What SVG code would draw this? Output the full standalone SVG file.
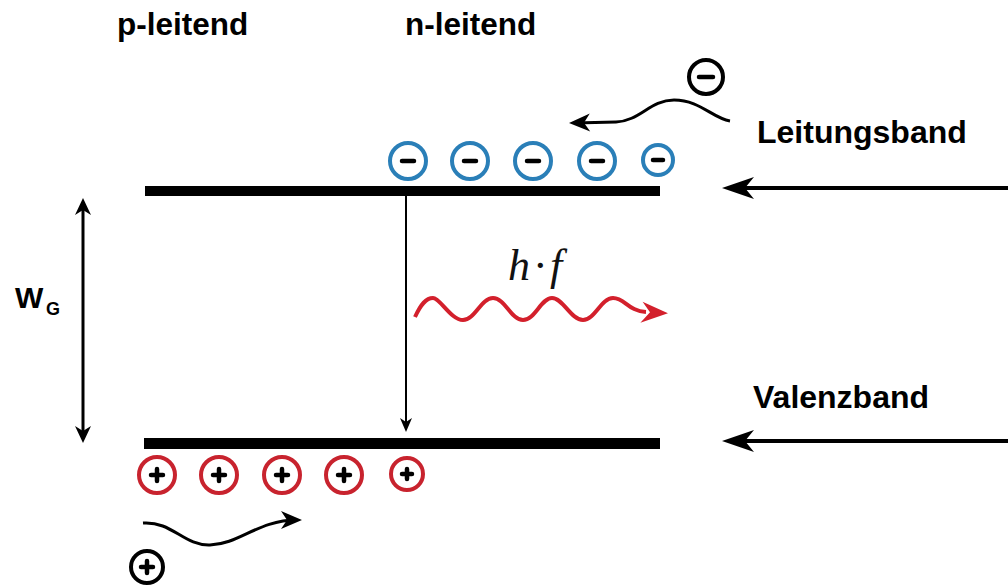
<svg xmlns="http://www.w3.org/2000/svg" width="1008" height="586" viewBox="0 0 1008 586">
<style>
.lbl{font-family:"Liberation Sans",Arial,sans-serif;font-weight:bold;fill:#000}
.band{fill:#000}
.ecirc{fill:#fff;stroke:#2a7fb8;stroke-width:4}
.hcirc{fill:#fff;stroke:#c8232e;stroke-width:4}
.kcirc{fill:#fff;stroke:#000;stroke-width:4}
.sign{stroke:#000;stroke-width:4.5;stroke-linecap:round}
.conn{fill:none;stroke:#000}
</style>
<defs>
<marker id="bigHead" viewBox="-32 -12 38 24" refX="0" refY="0" markerWidth="38" markerHeight="24" markerUnits="userSpaceOnUse" orient="auto">
<path d="M6,0 L-26,-11 L-17,0 L-26,11 Z" fill="#000"/>
</marker>
<marker id="midHead" viewBox="-20 -10 26 20" refX="0" refY="0" markerWidth="26" markerHeight="20" markerUnits="userSpaceOnUse" orient="auto-start-reverse">
<path d="M4,0 L-13,-8 L-8,0 L-13,8 Z" fill="#000"/>
</marker>
<marker id="smallHead" viewBox="-16 -8 20 16" refX="0" refY="0" markerWidth="20" markerHeight="16" markerUnits="userSpaceOnUse" orient="auto">
<path d="M3,0 L-11,-6 L-7,0 L-11,6 Z" fill="#000"/>
</marker>
<marker id="waveHead" viewBox="-22 -10 28 20" refX="0" refY="0" markerWidth="28" markerHeight="20" markerUnits="userSpaceOnUse" orient="auto">
<path d="M5,0 L-16,-9 L-10,0 L-16,9 Z" fill="#000"/>
</marker>
<marker id="redHead" viewBox="-12 -12 36 24" refX="0" refY="0" markerWidth="36" markerHeight="24" markerUnits="userSpaceOnUse" orient="auto">
<path d="M22,0 L-4,-10 L4,0 L-5,11 Z" fill="#d3202c"/>
</marker>
</defs>

<g id="labels">
<text class="lbl" x="117" y="35" font-size="31.5">p-leitend</text>
<text class="lbl" x="405" y="35" font-size="31.5">n-leitend</text>
<text class="lbl" x="757" y="143" font-size="32">Leitungsband</text>
<text class="lbl" x="753" y="408" font-size="32">Valenzband</text>
<text class="lbl" x="15" y="308" font-size="30">W<tspan x="46" y="315" font-size="18">G</tspan></text>
<text x="508" y="280" font-family="'Liberation Serif','Times New Roman',serif" font-style="italic" font-size="44" fill="#111">h<tspan x="533" font-style="normal">·</tspan><tspan x="550">f</tspan></text>
</g>

<g id="conduction-band"><rect class="band" x="145" y="186" width="515" height="10"/></g>
<g id="valence-band"><rect class="band" x="144" y="438" width="516" height="11"/></g>

<g id="connectors">
<line class="conn" x1="1008" y1="188" x2="728" y2="188" stroke-width="4" marker-end="url(#bigHead)"/>
<line class="conn" x1="1008" y1="441" x2="728" y2="441" stroke-width="4" marker-end="url(#bigHead)"/>
<line class="conn" x1="83" y1="202" x2="83" y2="439" stroke-width="3" marker-start="url(#midHead)" marker-end="url(#midHead)"/>
<line class="conn" x1="406" y1="196" x2="406" y2="429" stroke-width="2" marker-end="url(#smallHead)"/>
<path class="conn" d="M730,121 C712,118 700,100 674,100 C650,100 640,121 616,122 L574,123" stroke-width="3" marker-end="url(#waveHead)"/>
<path class="conn" d="M143,523 C172,521 184,546 210,545 C240,544 258,520 297,520" stroke-width="3" marker-end="url(#waveHead)"/>
<path d="M415,317 C421,304 426,298 433,298 S451,320 463,320 S481,298 493,298 S511,320 523,320 S541,298 552,298 S571,320 583,320 S601,298 613,298 S628,311 646,312" fill="none" stroke="#d3202c" stroke-width="4" marker-end="url(#redHead)"/>
</g>

<g id="electron-free" transform="translate(706,77)"><circle class="kcirc" r="17"/><line class="sign" x1="-7" y1="0" x2="7" y2="0"/></g>
<g id="electron-1" transform="translate(408,161)"><circle class="ecirc" r="18"/><line class="sign" x1="-6" y1="0" x2="6" y2="0"/></g>
<g id="electron-2" transform="translate(470,161)"><circle class="ecirc" r="18"/><line class="sign" x1="-6" y1="0" x2="6" y2="0"/></g>
<g id="electron-3" transform="translate(533,161)"><circle class="ecirc" r="18"/><line class="sign" x1="-6" y1="0" x2="6" y2="0"/></g>
<g id="electron-4" transform="translate(597,161)"><circle class="ecirc" r="18"/><line class="sign" x1="-6" y1="0" x2="6" y2="0"/></g>
<g id="electron-5" transform="translate(658,160)"><circle class="ecirc" r="15"/><line class="sign" x1="-5" y1="0" x2="5" y2="0"/></g>

<g id="hole-1" transform="translate(157,475)"><circle class="hcirc" r="18"/><path class="sign" d="M-6,0 H6 M0,-6 V6"/></g>
<g id="hole-2" transform="translate(219,475)"><circle class="hcirc" r="18"/><path class="sign" d="M-6,0 H6 M0,-6 V6"/></g>
<g id="hole-3" transform="translate(282,475)"><circle class="hcirc" r="18"/><path class="sign" d="M-6,0 H6 M0,-6 V6"/></g>
<g id="hole-4" transform="translate(344,475)"><circle class="hcirc" r="18"/><path class="sign" d="M-6,0 H6 M0,-6 V6"/></g>
<g id="hole-5" transform="translate(407,474)"><circle class="hcirc" r="16"/><path class="sign" d="M-5,0 H5 M0,-5 V5"/></g>
<g id="hole-free" transform="translate(147,567)"><circle class="kcirc" r="16"/><path class="sign" d="M-6,0 H6 M0,-6 V6"/></g>
</svg>
